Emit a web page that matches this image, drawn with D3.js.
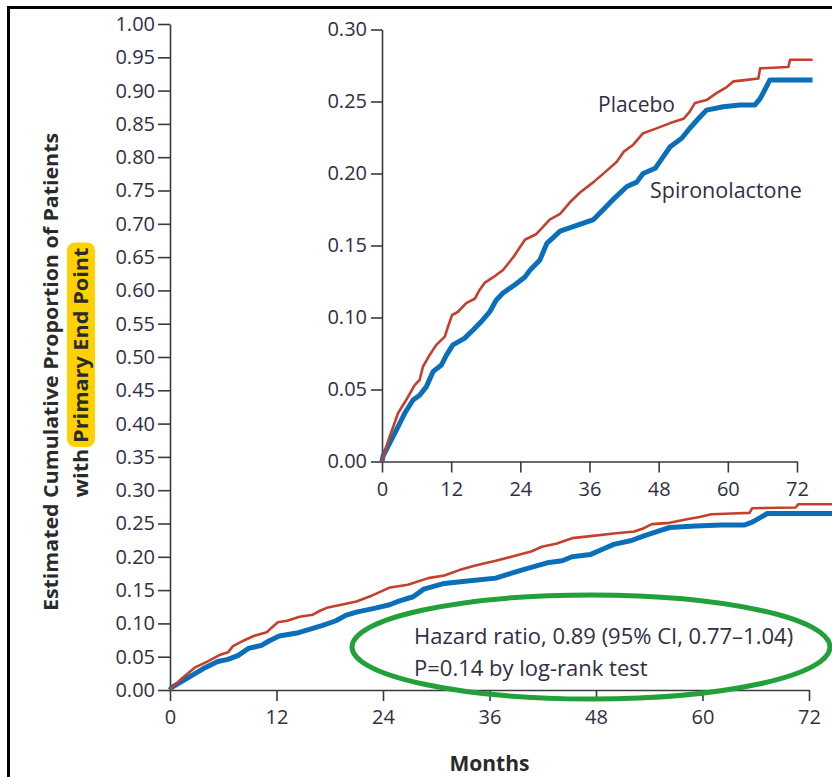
<!DOCTYPE html>
<html>
<head>
<meta charset="utf-8">
<script src="https://cdn.jsdelivr.net/npm/d3@7/dist/d3.min.js"></script>
<style>
  html, body { margin: 0; padding: 0; background: #fff; }
  svg { display: block; }
  text { font-family: "Open Sans", "Noto Sans", sans-serif; }
</style>
</head>
<body>
<svg id="chart" width="832" height="777"></svg>
<script>
// ---------------- DATA ----------------
const monthTicks = [0, 12, 24, 36, 48, 60, 72];
const mainYTicks = [0.00, 0.05, 0.10, 0.15, 0.20, 0.25, 0.30, 0.35, 0.40, 0.45, 0.50,
                    0.55, 0.60, 0.65, 0.70, 0.75, 0.80, 0.85, 0.90, 0.95, 1.00];
const insetYTicks = [0.00, 0.05, 0.10, 0.15, 0.20, 0.25, 0.30];

const placeboMonths = [0, 0.2, 1.33, 2.78, 4.2, 5.67, 6.53, 7.1, 8.27, 9.42, 10.9, 11.45, 12.15, 13.2,
  14.6, 16.1, 16.9, 17.8, 19.3, 21.0, 22.8, 24.8, 26.8, 29.1, 30.9, 32.6, 34.4, 36.7, 39.0, 40.7,
  41.9, 43.6, 45.3, 47.4, 50.0, 52.3, 53.4, 54.3, 56.3, 58.1, 59.8, 61.0, 63.3, 65.3, 65.6, 70.5,
  70.8, 74.7];
const placeboValues = [0, 0.003, 0.0172, 0.0335, 0.0427, 0.053, 0.0566, 0.0658, 0.074, 0.081, 0.0867,
  0.0936, 0.1017, 0.104, 0.110, 0.113, 0.119, 0.124, 0.128, 0.133, 0.142, 0.154, 0.158, 0.168, 0.172,
  0.180, 0.187, 0.194, 0.202, 0.208, 0.215, 0.220, 0.228, 0.231, 0.235, 0.238, 0.243, 0.249, 0.251,
  0.256, 0.260, 0.264, 0.265, 0.266, 0.273, 0.274, 0.279, 0.279];

const spiroMonths = [0, 0.2, 2.2, 3.94, 5.38, 6.53, 7.7, 8.85, 10.3, 11.2, 12.3, 14.3, 15.8, 17.2, 18.7,
  19.8, 21.0, 23.0, 24.75, 25.7, 27.4, 28.6, 30.9, 33.8, 36.7, 38.4, 40.1, 42.5, 44.2, 45.3, 47.4,
  48.8, 50.0, 52.0, 53.4, 55.2, 56.3, 59.2, 62.1, 64.7, 65.6, 66.4, 67.3, 74.7];
const spiroValues = [0, 0.004, 0.0196, 0.0335, 0.0427, 0.046, 0.052, 0.0624, 0.067, 0.074, 0.081,
  0.0855, 0.0913, 0.097, 0.104, 0.112, 0.117, 0.1226, 0.128, 0.133, 0.140, 0.1515, 0.160, 0.164,
  0.168, 0.175, 0.182, 0.191, 0.194, 0.200, 0.2036, 0.2117, 0.2186, 0.2245, 0.2314, 0.2394, 0.244,
  0.2464, 0.2476, 0.2476, 0.252, 0.258, 0.265, 0.265];

const seriesNames = ["Placebo", "Spironolactone"];
const yTitleLine1 = "Estimated Cumulative Proportion of Patients";
const yTitleLine2a = "with ";
const yTitleLine2b = "Primary End Point";
const xTitle = "Months";
const statLines = ["Hazard ratio, 0.89 (95% CI, 0.77\u20131.04)", "P=0.14 by log-rank test"];

// ---------------- STYLE ----------------
const RED = "#c3402c", BLUE = "#0a6fb8", GREEN = "#22a03a";
const AXIS = "#3a3a3a", LABEL = "#2f2f45";
const FS = 20;

const svg = d3.select("#chart");
const placebo = placeboMonths.map((m, i) => [m, placeboValues[i]]);
const spiro = spiroMonths.map((m, i) => [m, spiroValues[i]]);

// frame (left & top border)
svg.append("path").attr("d", "M8.5,777 V7.5 H832")
  .attr("fill", "none").attr("stroke", "#000").attr("stroke-width", 3);

function styleAxis(g) {
  g.select(".domain").attr("stroke", AXIS).attr("stroke-width", 1.6);
  g.selectAll(".tick line").attr("stroke", AXIS).attr("stroke-width", 1.6);
  g.selectAll(".tick text").attr("fill", LABEL).style("font-size", FS + "px")
    .style("font-family", '"Open Sans", sans-serif');
}

// ---------------- MAIN CHART ----------------
const mx = d3.scaleLinear().domain([0, 72]).range([170, 809]);
const my = d3.scaleLinear().domain([0, 1]).range([690, 24]);

const gy = svg.append("g").attr("transform", `translate(${mx(0)},0)`)
  .call(d3.axisLeft(my).tickValues(mainYTicks).tickFormat(d3.format(".2f"))
    .tickSize(12).tickSizeOuter(0).tickPadding(3));
styleAxis(gy);

const gx = svg.append("g").attr("transform", `translate(0,${my(0)})`)
  .call(d3.axisBottom(mx).tickValues(monthTicks).tickFormat(d3.format("d"))
    .tickSize(11).tickSizeOuter(0).tickPadding(9));
styleAxis(gx);

const mline = d3.line().x(d => mx(d[0])).y(d => my(d[1])).curve(d3.curveLinear);
svg.append("path").datum(spiro).attr("d", mline)
  .attr("fill", "none").attr("stroke", BLUE).attr("stroke-width", 5).attr("stroke-linejoin", "round");
svg.append("path").datum(placebo).attr("d", mline)
  .attr("fill", "none").attr("stroke", RED).attr("stroke-width", 2.6).attr("stroke-linejoin", "round");

// ---------------- INSET ----------------
const ix = d3.scaleLinear().domain([0, 72]).range([382, 797]);
const iy = d3.scaleLinear().domain([0, 0.30]).range([461.5, 29.5]);

const igy = svg.append("g").attr("transform", `translate(${ix(0)},0)`)
  .call(d3.axisLeft(iy).tickValues(insetYTicks).tickFormat(d3.format(".2f"))
    .tickSize(11).tickSizeOuter(0).tickPadding(4));
styleAxis(igy);

const igx = svg.append("g").attr("transform", `translate(0,${iy(0)})`)
  .call(d3.axisBottom(ix).tickValues(monthTicks).tickFormat(d3.format("d"))
    .tickSize(11).tickSizeOuter(0).tickPadding(9));
styleAxis(igx);

const iline = d3.line().x(d => ix(d[0])).y(d => iy(d[1])).curve(d3.curveLinear);
svg.append("path").datum(spiro).attr("d", iline)
  .attr("fill", "none").attr("stroke", BLUE).attr("stroke-width", 5).attr("stroke-linejoin", "round");
svg.append("path").datum(placebo).attr("d", iline)
  .attr("fill", "none").attr("stroke", RED).attr("stroke-width", 2.6).attr("stroke-linejoin", "round");

svg.append("text").attr("x", 598).attr("y", 112).attr("fill", LABEL)
  .style("font-size", "21px").text(seriesNames[0]);
svg.append("text").attr("x", 650).attr("y", 198).attr("fill", LABEL)
  .style("font-size", "21.5px").text(seriesNames[1]);

// ---------------- STATS ELLIPSE ----------------
svg.append("ellipse").attr("cx", 591).attr("cy", 647).attr("rx", 239).attr("ry", 52)
  .attr("fill", "none").attr("stroke", GREEN).attr("stroke-width", 5);
statLines.forEach((t, i) => {
  svg.append("text").attr("x", 414).attr("y", 644 + i * 32).attr("fill", LABEL)
    .style("font-size", "22px").text(t);
});

// ---------------- AXIS TITLES ----------------
svg.append("text").attr("x", mx(36)).attr("y", 771).attr("text-anchor", "middle")
  .attr("fill", "#2a2a2a").style("font-size", "21px").style("font-weight", "bold").text(xTitle);

const tg = svg.append("g").attr("transform", "translate(0,372) rotate(-90)");
tg.append("text").attr("x", 0).attr("y", 58).attr("text-anchor", "middle")
  .attr("fill", "#2a2a2a").style("font-size", "19.5px").style("font-weight", "bold")
  .attr("textLength", 478).attr("lengthAdjust", "spacingAndGlyphs")
  .text(yTitleLine1);
const hlRect = tg.append("rect").attr("fill", "#ffd100").attr("rx", 8).attr("ry", 8);
const t2 = tg.append("text").attr("x", -0.5).attr("y", 88).attr("text-anchor", "middle")
  .attr("fill", "#2a2a2a").style("font-size", "19.5px").style("font-weight", "bold")
  .attr("textLength", 250).attr("lengthAdjust", "spacingAndGlyphs");
t2.append("tspan").text(yTitleLine2a);
t2.append("tspan").text(yTitleLine2b);
const node = t2.node();
const startIdx = yTitleLine2a.length;
const endIdx = yTitleLine2a.length + yTitleLine2b.length - 1;
const x0 = node.getStartPositionOfChar(startIdx).x;
const x1 = node.getEndPositionOfChar(endIdx).x;
hlRect.attr("x", x0 - 4).attr("width", x1 - x0 + 9).attr("y", 88 - 21).attr("height", 28);
</script>
</body>
</html>
